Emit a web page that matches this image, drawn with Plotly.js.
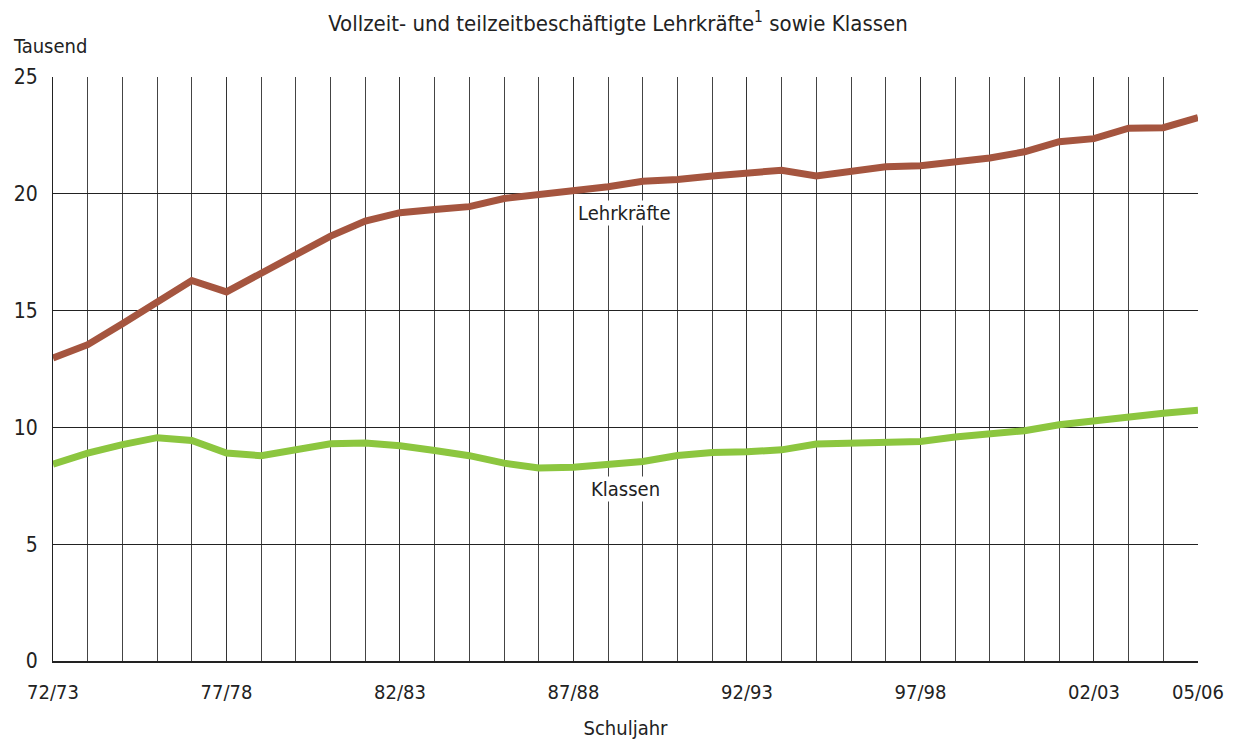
<!DOCTYPE html>
<html>
<head>
<meta charset="utf-8">
<script src="https://cdn.plot.ly/plotly-3.0.1.min.js"></script>
<style>html,body{margin:0;padding:0;background:#fff;}#chart{width:1236px;height:742px;}</style>
</head>
<body>
<div id="chart"></div>
<script>
const years = ["72/73","73/74","74/75","75/76","76/77","77/78","78/79","79/80","80/81","81/82",
  "82/83","83/84","84/85","85/86","86/87","87/88","88/89","89/90","90/91","91/92",
  "92/93","93/94","94/95","95/96","96/97","97/98","98/99","99/00","00/01","01/02",
  "02/03","03/04","04/05","05/06"];
const labeledYears = ["72/73","77/78","82/83","87/88","92/93","97/98","02/03","05/06"];
const lehrkraefte = [12.97,13.54,14.44,15.39,16.29,15.80,16.59,17.39,18.19,18.83,
  19.19,19.33,19.45,19.80,19.95,20.12,20.30,20.54,20.61,20.76,
  20.90,21.01,20.76,20.95,21.16,21.20,21.36,21.53,21.80,22.23,
  22.36,22.81,22.83,23.26];
const klassen = [8.43,8.90,9.26,9.56,9.44,8.90,8.79,9.04,9.30,9.33,
  9.21,9.01,8.79,8.47,8.26,8.29,8.40,8.54,8.80,8.93,
  8.96,9.04,9.29,9.32,9.33,9.40,9.59,9.73,9.86,10.11,
  10.30,10.47,10.61,10.73];
const seriesNames = ["Lehrkräfte","Klassen"];
const yTicks = [0,5,10,15,20,25];

const FONT = "'DejaVu Sans Condensed', 'Liberation Sans Narrow', 'Liberation Sans', Arial, sans-serif";
const xIdx = years.map((_, i) => i);
const labeledIdx = labeledYears.map(y => years.indexOf(y));

const traces = [
  {x: xIdx, y: lehrkraefte, name: seriesNames[0], mode: 'lines', type: 'scatter',
   line: {color: '#a5553f', width: 7}, hoverinfo: 'skip'},
  {x: xIdx, y: klassen, name: seriesNames[1], mode: 'lines', type: 'scatter',
   line: {color: '#8cc63f', width: 7}, hoverinfo: 'skip'}
];

const layout = {
  width: 1236, height: 742,
  margin: {l: 53, r: 38, t: 77, b: 81},
  paper_bgcolor: '#fff', plot_bgcolor: '#fff',
  showlegend: false,
  font: {family: FONT, size: 20, color: '#222'},
  title: {text: 'Vollzeit- und teilzeitbeschäftigte Lehrkräfte<sup>1</sup> sowie Klassen',
          font: {family: FONT, size: 22, color: '#222'}, x: 0.5, xanchor: 'center', y: 0.968, yanchor: 'middle'},
  xaxis: {
    range: [0, years.length - 1],
    tickmode: 'array',
    tickvals: labeledIdx,
    ticktext: labeledYears,
    showgrid: true, gridcolor: '#333', gridwidth: 1,
    minor: {tickmode: 'linear', tick0: 0, dtick: 1, showgrid: true, gridcolor: '#444', gridwidth: 1, ticks: ''},
    showline: true, linecolor: '#222', linewidth: 2,
    ticks: 'outside', ticklen: 12, tickcolor: 'rgba(0,0,0,0)',
    zeroline: false, fixedrange: true,
    tickfont: {family: FONT, size: 20, color: '#222'},
    title: {text: 'Schuljahr', font: {family: FONT, size: 20, color: '#222'}, standoff: 18}
  },
  yaxis: {
    range: [0, 25],
    tickmode: 'array', tickvals: yTicks, ticktext: yTicks.map(String),
    showgrid: true, gridcolor: '#222', gridwidth: 1,
    showline: true, linecolor: '#222', linewidth: 1,
    ticks: 'outside', ticklen: 10, tickcolor: 'rgba(0,0,0,0)',
    zeroline: false, fixedrange: true,
    tickfont: {family: FONT, size: 21, color: '#222'}
  },
  annotations: [
    {xref: 'paper', yref: 'paper', x: -0.037, y: 1.053, xanchor: 'left', yanchor: 'middle',
     text: 'Tausend', showarrow: false, font: {family: FONT, size: 20, color: '#222'}},
    {xref: 'x', yref: 'y', x: 16.45, y: 19.18, text: seriesNames[0], showarrow: false,
     bgcolor: '#fff', borderpad: 0, font: {family: FONT, size: 20, color: '#222'}},
    {xref: 'x', yref: 'y', x: 16.5, y: 7.38, text: seriesNames[1], showarrow: false,
     bgcolor: '#fff', borderpad: 0, font: {family: FONT, size: 20, color: '#222'}}
  ]
};

Plotly.newPlot('chart', traces, layout, {displayModeBar: false, staticPlot: true});
</script>
</body>
</html>
